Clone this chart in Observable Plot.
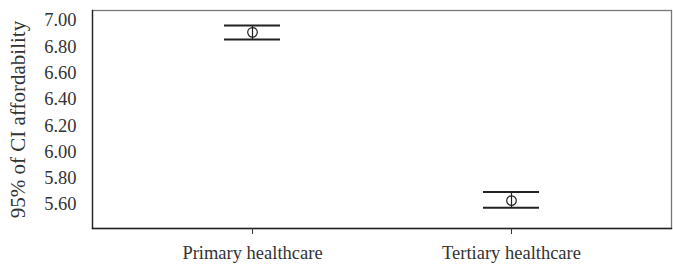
<!DOCTYPE html>
<html>
<head>
<meta charset="utf-8">
<script src="https://cdn.jsdelivr.net/npm/d3@7"></script>
<script src="https://cdn.jsdelivr.net/npm/@observablehq/plot@0.6"></script>
<style>
  html, body { margin: 0; padding: 0; background: #fff; }
</style>
</head>
<body>
<div id="chart"></div>
<script>
const categories = ["Primary healthcare", "Tertiary healthcare"];
const means = [6.91, 5.63];
const lower = [6.855, 5.575];
const upper = [6.962, 5.695];
const yTicks = [5.6, 5.8, 6.0, 6.2, 6.4, 6.6, 6.8, 7.0];
const yLabel = "95% of CI affordability";

const data = categories.map((c, i) => ({cat: c, mean: means[i], lo: lower[i], hi: upper[i]}));

const font = "'Liberation Serif', 'Times New Roman', serif";

const chart = Plot.plot({
  width: 673,
  height: 266,
  marginLeft: 92,
  marginRight: 2,
  marginTop: 10,
  marginBottom: 38,
  style: {fontFamily: font, fontSize: "18.5px", color: "#333", background: "#fff"},
  x: {type: "band", domain: categories, paddingInner: 0.785, paddingOuter: 0.506, align: 0.5},
  y: {domain: [5.418, 7.076]},
  marks: [
    Plot.frame({stroke: "#777", strokeWidth: 1.3}),
    Plot.frame({anchor: "left", stroke: "#222", strokeWidth: 1.3}),
    Plot.frame({anchor: "bottom", stroke: "#222", strokeWidth: 1.3}),
    Plot.axisY({ticks: yTicks, tickFormat: d3.format(".2f"), tickSize: 6, tickPadding: 10,
      label: yLabel, labelAnchor: "center", labelArrow: "none", labelOffset: 82, fontSize: 18.5, stroke: null}),
    Plot.axisX({tickSize: 6, tickPadding: 11, label: null, fontSize: 18.5}),
    Plot.tickY(data, {x: "cat", y: "hi", stroke: "#222", strokeWidth: 2}),
    Plot.tickY(data, {x: "cat", y: "lo", stroke: "#222", strokeWidth: 2}),
    Plot.ruleX(data, {x: "cat", y1: "lo", y2: "hi", stroke: "#222", strokeWidth: 1.2}),
    Plot.dot(data, {x: "cat", y: "mean", r: 4.8, stroke: "#222", strokeWidth: 1.2, fill: "none"})
  ]
});
document.getElementById("chart").appendChild(chart);
chart.querySelectorAll("[aria-label='y-axis label'] text").forEach(t => t.setAttribute("font-size", "21px"));
</script>
</body>
</html>
